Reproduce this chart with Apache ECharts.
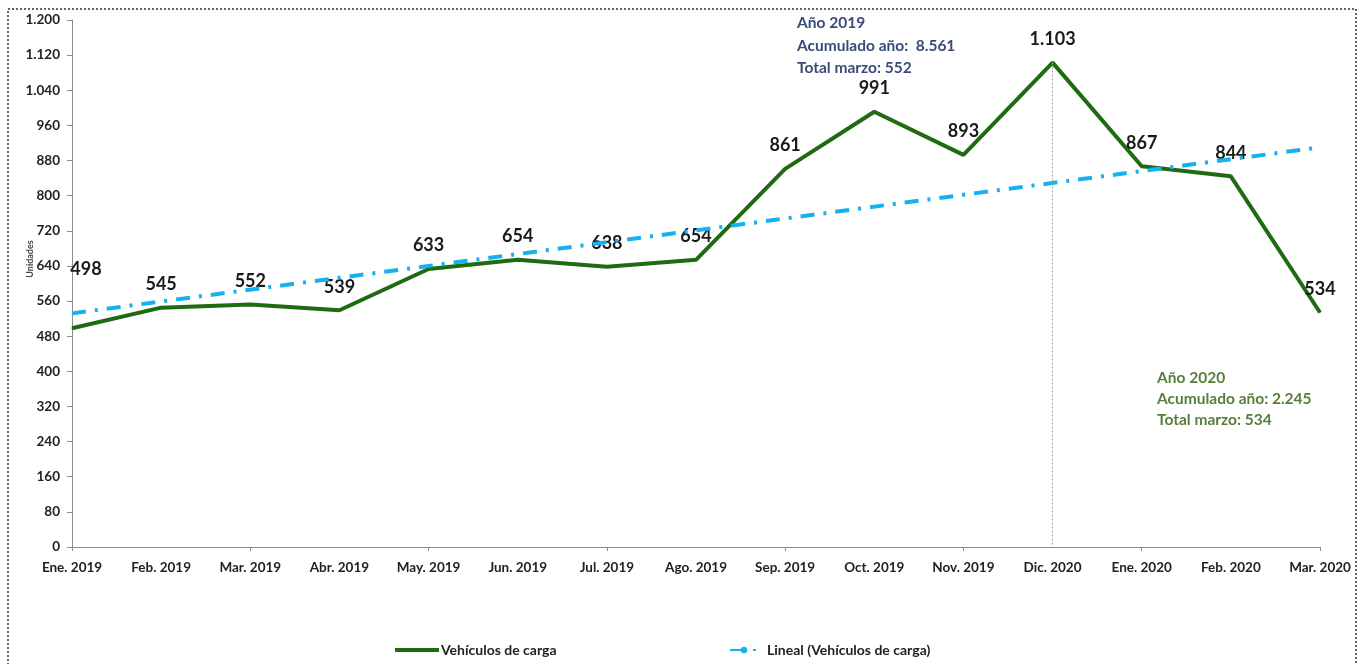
<!DOCTYPE html>
<html>
<head>
<meta charset="utf-8">
<script src="https://cdn.jsdelivr.net/npm/echarts@6/dist/echarts.min.js"></script>
<style>
  html, body { margin: 0; padding: 0; background: #fff; }
  #main { width: 1363px; height: 664px; }
</style>
</head>
<body>
<div id="main"></div>
<script>
var meses = ['Ene. 2019', 'Feb. 2019', 'Mar. 2019', 'Abr. 2019', 'May. 2019', 'Jun. 2019', 'Jul. 2019',
  'Ago. 2019', 'Sep. 2019', 'Oct. 2019', 'Nov. 2019', 'Dic. 2020', 'Ene. 2020', 'Feb. 2020', 'Mar. 2020'];
var vehiculos = [498, 545, 552, 539, 633, 654, 638, 654, 861, 991, 893, 1103, 867, 844, 534];
// tendencia lineal: solo los extremos
var tendencia = [532, null, null, null, null, null, null, null, null, null, null, null, null, null, 910];
var ticksY = [0, 80, 160, 240, 320, 400, 480, 560, 640, 720, 800, 880, 960, 1040, 1120, 1200];

var fuente = 'Lato';

function miles(v) {
  return String(v).replace(/\B(?=(\d{3})+(?!\d))/g, '.');
}

var chart = echarts.init(document.getElementById('main'));

var estiloEtiqueta = {
  fontSize: 18,
  fontWeight: 'bold',
  color: '#1a1a1a',
  fontFamily: fuente
};

var option = {
  animation: false,
  textStyle: { fontFamily: fuente },
  grid: { left: 72, right: 43, top: 20, bottom: 117, outerBoundsMode: 'none', containLabel: false },
  legend: [
    {
      left: 390,
      top: 638,
      itemWidth: 44,
      itemHeight: 4,
      itemGap: 4,
      textStyle: { fontSize: 14, fontWeight: 'bold', color: '#222', fontFamily: fuente, padding: [0, 0, 0, -3] },
      data: [{ name: 'Vehículos de carga', icon: 'rect' }]
    },
    {
      left: 724,
      top: 638,
      itemWidth: 28,
      itemHeight: 8,
      textStyle: { fontSize: 14, fontWeight: 'bold', color: '#222', fontFamily: fuente, padding: [0, 0, 0, 4] },
      data: [{ name: 'Lineal (Vehículos de carga)' }]
    }
  ],
  xAxis: {
    type: 'category',
    data: meses,
    boundaryGap: false,
    axisLine: { lineStyle: { color: '#8c8c8c', width: 1 } },
    axisTick: { interval: 1, length: 4, lineStyle: { color: '#8c8c8c' } },
    axisLabel: { interval: 0, margin: 14, fontSize: 13.5, fontWeight: 'bold', color: '#222' }
  },
  yAxis: {
    type: 'value',
    min: ticksY[0],
    max: ticksY[ticksY.length - 1],
    interval: 80,
    splitLine: { show: false },
    axisLine: { show: true, lineStyle: { color: '#8c8c8c', width: 1 } },
    axisTick: { show: true, length: 5, lineStyle: { color: '#8c8c8c' } },
    axisLabel: { margin: 12, fontSize: 13.5, fontWeight: 'bold', color: '#222', formatter: miles }
  },
  series: [
    {
      name: 'Lineal (Vehículos de carga)',
      type: 'line',
      data: tendencia,
      connectNulls: true,
      showSymbol: false,
      symbol: 'none',
      z: 3,
      lineStyle: { color: '#16b1ee', width: 4, type: [14, 9, 3, 9] },
      itemStyle: { color: '#16b1ee' }
    },
    {
      name: 'Vehículos de carga',
      type: 'line',
      data: vehiculos.map(function (v, i) {
        var d = { value: v };
        if (i === 0) d.label = { show: false };
        return d;
      }),
      showSymbol: true,
      symbol: 'circle',
      symbolSize: 1,
      z: 2,
      lineStyle: { color: '#1f6b12', width: 4 },
      itemStyle: { color: '#1f6b12' },
      label: Object.assign({
        show: true,
        position: 'top',
        distance: 14,
        formatter: function (p) { return miles(p.value); }
      }, estiloEtiqueta),
      labelLayout: { hideOverlap: false },
      // la primera etiqueta está desplazada hacia arriba y a la derecha
      markPoint: {
        silent: true,
        symbol: 'circle',
        symbolSize: 0,
        label: Object.assign({
          show: true,
          position: 'top',
          distance: 50,
          offset: [14, 0],
          formatter: function (p) { return miles(p.value); }
        }, estiloEtiqueta),
        data: [{ coord: [meses[0], vehiculos[0]], value: vehiculos[0] }]
      },
      markLine: {
        silent: true,
        symbol: 'none',
        label: { show: false },
        lineStyle: { color: '#a0a0a0', type: [2, 2], width: 1 },
        data: [[
          { coord: [meses[11], vehiculos[11]] },
          { coord: [meses[11], 0] }
        ]]
      }
    }
  ],
  graphic: [
    {
      type: 'rect',
      silent: true,
      shape: { x: 8, y: 9, width: 1348, height: 700 },
      style: { fill: 'none', stroke: '#333', lineWidth: 1.5, lineDash: [2, 2] }
    },
    {
      // título del eje Y
      type: 'text',
      x: 30,
      y: 259,
      rotation: Math.PI / 2,
      style: {
        text: 'Unidades',
        fill: '#444',
        font: 'bold 9px ' + fuente,
        align: 'center',
        verticalAlign: 'middle'
      }
    },
    {
      type: 'text',
      left: 797,
      top: 12,
      style: {
        text: 'Año 2019\nAcumulado año:  8.561\nTotal marzo: 552',
        fill: '#3a4b77',
        font: 'bold 15.5px ' + fuente,
        lineHeight: 22.5
      }
    },
    {
      type: 'text',
      left: 1157,
      top: 367,
      style: {
        text: 'Año 2020\nAcumulado año: 2.245\nTotal marzo: 534',
        fill: '#577e3a',
        font: 'bold 15.5px ' + fuente,
        lineHeight: 21
      }
    }
  ]
};

chart.setOption(option);
</script>
</body>
</html>
